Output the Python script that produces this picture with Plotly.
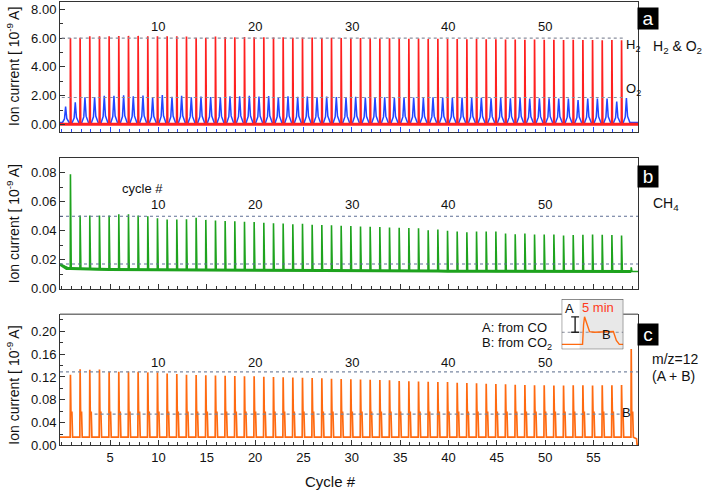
import plotly.graph_objects as go

# ---- data (cycle-resolved peak heights) ----
# H2 peaks (red), one per cycle 1..58
h2_peaks = [6.00, 6.02, 6.12, 6.12, 6.12, 6.14, 6.15, 6.15, 6.13, 6.12,
            6.13, 6.12, 6.10, 6.02, 6.02, 6.10, 6.08, 6.05, 6.08, 6.06,
            6.05, 6.04, 6.06, 6.02, 6.04, 6.03, 6.00, 6.02, 6.00, 5.98,
            6.00, 5.98, 5.97, 5.98, 5.96, 5.95, 5.96, 5.94, 5.95, 5.93,
            5.94, 5.92, 5.93, 5.91, 5.92, 5.90, 5.90, 5.89, 5.90, 5.88,
            5.88, 5.87, 5.88, 5.86, 5.86, 5.85, 5.86, 5.85]
h2_base = 0.03
# O2 peaks (blue), one per cycle 1..59
o2_peaks = [1.25, 1.55, 1.90, 1.92, 2.00, 2.00, 2.03, 1.97, 2.02, 1.88,
            2.05, 1.93, 2.00, 1.90, 1.95, 1.92, 1.90, 1.97, 1.97, 2.00,
            1.95, 1.98, 1.92, 1.96, 1.93, 1.95, 1.90, 1.94, 1.92, 1.90,
            1.93, 1.88, 1.92, 1.90, 1.86, 1.90, 1.88, 1.85, 1.90, 1.87,
            1.85, 1.88, 1.84, 1.86, 1.83, 1.85, 1.82, 1.84, 1.80, 1.83,
            1.82, 1.81, 1.81, 1.70, 1.80, 1.80, 1.80, 1.60, 1.85]
o2_base = 0.15
# CH4 peaks (green), cycles 1..58, plus the small bump of cycle 59
ch4_peaks = [0.0790, 0.0505, 0.0505, 0.0505, 0.0505, 0.0514, 0.0514, 0.0505, 0.0500, 0.0487,
             0.0478, 0.0478, 0.0480, 0.0490, 0.0475, 0.0470, 0.0468, 0.0465, 0.0462, 0.0460,
             0.0455, 0.0452, 0.0450, 0.0445, 0.0448, 0.0442, 0.0440, 0.0438, 0.0435, 0.0432,
             0.0430, 0.0428, 0.0425, 0.0422, 0.0420, 0.0419, 0.0417, 0.0403, 0.0408, 0.0400,
             0.0395, 0.0390, 0.0395, 0.0395, 0.0395, 0.0380, 0.0376, 0.0380, 0.0374, 0.0374,
             0.0374, 0.0367, 0.0370, 0.0372, 0.0374, 0.0372, 0.0370, 0.0367, 0.0147]
ch4_base = [0.0138, 0.0135, 0.0134, 0.0133, 0.0132, 0.0132, 0.0131, 0.0131, 0.0130, 0.0130,
            0.0130, 0.0129, 0.0129, 0.0129, 0.0128, 0.0128, 0.0128, 0.0127, 0.0127, 0.0127,
            0.0126, 0.0126, 0.0126, 0.0125, 0.0125, 0.0125, 0.0124, 0.0124, 0.0124, 0.0123,
            0.0123, 0.0123, 0.0122, 0.0122, 0.0122, 0.0121, 0.0121, 0.0121, 0.0121, 0.0120,
            0.0120, 0.0120, 0.0120, 0.0120, 0.0119, 0.0119, 0.0119, 0.0119, 0.0119, 0.0118,
            0.0118, 0.0118, 0.0118, 0.0118, 0.0118, 0.0118, 0.0118, 0.0118, 0.0118]
ch4_start = 0.0168
# m/z=12 peaks (orange, A from CO), cycles 1..59
mz12_peaks = [0.1240, 0.1335, 0.1325, 0.1330, 0.1290, 0.1290, 0.1295, 0.1290, 0.1280, 0.1280,
              0.1260, 0.1250, 0.1240, 0.1235, 0.1230, 0.1225, 0.1220, 0.1215, 0.1210, 0.1210,
              0.1205, 0.1200, 0.1195, 0.1190, 0.1185, 0.1180, 0.1175, 0.1170, 0.1165, 0.1160,
              0.1155, 0.1150, 0.1145, 0.1140, 0.1130, 0.1125, 0.1120, 0.1115, 0.1110, 0.1110,
              0.1100, 0.1095, 0.1090, 0.1080, 0.1075, 0.1070, 0.1065, 0.1060, 0.1055, 0.1055,
              0.1050, 0.1050, 0.1055, 0.1055, 0.1050, 0.1055, 0.1055, 0.1060, 0.1690]
mz12_b = 0.058      # B shoulder (from CO2)
mz12_base = 0.0145
mz12_end = 0.002

# reference levels (dotted lines)
ref_a = [6.0, 1.88]
ref_b = [0.050, 0.017]
ref_c = [0.129, 0.055]
cycle_marks = [10, 20, 30, 40, 50]
x_ticks = [5, 10, 15, 20, 25, 30, 35, 40, 45, 50, 55]

# inset schematic (A peak, B plateau), in inset units
inset_x = [0, 21, 22, 23, 25, 28, 33, 50, 52, 55, 58, 62]
inset_y = [5, 5, 25, 33, 27, 18, 17.3, 17.3, 18, 9, 5, 5]

W, H = 703, 498
FONT = "Liberation Sans, Arial, sans-serif"
XR = [-0.18, 59.6]


def px(x):
    return x / W


def py(y):
    return 1 - y / H


def sharp(pos, peaks, base, rise, fall, x_end, start=None):
    bases = base if isinstance(base, list) else [base] * len(peaks)
    xs, ys = [XR[0]], [start if start is not None else bases[0]]
    for p, h, b in zip(pos, peaks, bases):
        xs += [p - rise, p, p + fall]
        ys += [b, h, b]
    xs.append(x_end)
    ys.append(bases[-1])
    return xs, ys


def broad(pos, peaks, base, x_end):
    xs, ys = [XR[0]], [base]
    for p, h in zip(pos, peaks):
        xs += [p - 0.32, p - 0.12, p, p + 0.12, p + 0.36]
        ys += [base, base + 0.22 * (h - base), h, base + 0.25 * (h - base), base]
    xs.append(x_end)
    ys.append(base)
    return xs, ys


h2_pos = [n - 0.1 for n in range(1, len(h2_peaks) + 1)]
o2_pos = [n - 0.6 for n in range(1, len(o2_peaks) + 1)]
ch4_pos = [n - 0.1 for n in range(1, len(ch4_peaks) + 1)]
mz_pos = [n - 0.1 for n in range(1, len(mz12_peaks) + 1)]

fig = go.Figure()

# panel a
bx, by = broad(o2_pos, o2_peaks, o2_base, XR[1])
fig.add_trace(go.Scatter(x=bx, y=by, mode="lines", line=dict(color="#2346ff", width=1.5),
                         xaxis="x", yaxis="y"))
rx, ry = sharp(h2_pos, h2_peaks, h2_base, 0.02, 0.06, XR[1])
fig.add_trace(go.Scatter(x=rx, y=ry, mode="lines", line=dict(color="#ff2020", width=1.7),
                         xaxis="x", yaxis="y"))
fig.add_trace(go.Scatter(x=[XR[0], XR[1]], y=[h2_base, h2_base], mode="lines",
                         line=dict(color="#ff2020", width=3), xaxis="x", yaxis="y"))

# panel b
gx, gy = sharp(ch4_pos, ch4_peaks, ch4_base, 0.02, 0.08, XR[1], start=ch4_start)
fig.add_trace(go.Scatter(x=gx, y=gy, mode="lines", line=dict(color="#1ea31e", width=1.6),
                         xaxis="x2", yaxis="y2"))
fig.add_trace(go.Scatter(x=[XR[0], 0.5] + ch4_pos, y=[ch4_start, ch4_base[0]] + ch4_base,
                         mode="lines", line=dict(color="#1ea31e", width=3),
                         xaxis="x2", yaxis="y2"))

# panel c
ox, oy = [XR[0]], [mz12_base]
for p, h in zip(mz_pos, mz12_peaks):
    ox += [p - 0.03, p, p + 0.05, p + 0.15, p + 0.22]
    oy += [mz12_base, h, mz12_b, mz12_b, mz12_base]
ox += [59.45, 59.5, XR[1]]
oy += [mz12_base * 0.8, mz12_end, mz12_end]
fig.add_trace(go.Scatter(x=ox, y=oy, mode="lines", line=dict(color="#ff6a10", width=1.7),
                         xaxis="x3", yaxis="y3"))

# inset
fig.add_trace(go.Scatter(x=inset_x, y=inset_y, mode="lines", line=dict(color="#ff6a10", width=1.4),
                         xaxis="x4", yaxis="y4"))
fig.add_trace(go.Scatter(x=[9.5, 17.5, None, 13.5, 13.5, None, 9.5, 17.5],
                         y=[33, 33, None, 33, 17.3, None, 17.3, 17.3], mode="lines",
                         line=dict(color="#222", width=1.4), xaxis="x4", yaxis="y4"))

dom_x = [px(60), px(638)]
axis_common = dict(showline=True, linecolor="#333", linewidth=1, mirror=True,
                   ticks="inside", ticklen=5, tickcolor="#333", showgrid=False,
                   zeroline=False, tickfont=dict(family=FONT, size=13, color="#111"))
xminor = dict(ticks="inside", ticklen=3, dtick=1, tickcolor="#333")

fig.update_layout(
    width=W, height=H, autosize=False, margin=dict(l=0, r=0, t=0, b=0, pad=0),
    paper_bgcolor="white", plot_bgcolor="rgba(0,0,0,0)", showlegend=False,
    font=dict(family=FONT, size=13, color="#111"),
    xaxis=dict(axis_common, domain=dom_x, range=XR, anchor="y", tickvals=x_ticks,
               showticklabels=False, tickcolor="#2346ff",
               minor=dict(xminor, tickcolor="#2346ff")),
    yaxis=dict(axis_common, domain=[py(134), py(2)], range=[-0.5, 8.5], anchor="x",
               dtick=2, tick0=0, tickformat=".2f", minor=dict(ticks="inside", ticklen=3, dtick=1)),
    xaxis2=dict(axis_common, domain=dom_x, range=XR, anchor="y2", tickvals=x_ticks,
                showticklabels=False, minor=xminor),
    yaxis2=dict(axis_common, domain=[py(293.3), py(161)], range=[0, 0.09], anchor="x2",
                dtick=0.02, tick0=0, tickformat=".2f", minor=dict(ticks="inside", ticklen=3, dtick=0.01)),
    xaxis3=dict(axis_common, domain=dom_x, range=XR, anchor="y3", tickvals=x_ticks,
                mirror=False, minor=xminor, title=None),
    yaxis3=dict(axis_common, domain=[py(452.7), py(319.3)], range=[0, 0.23], anchor="x3",
                dtick=0.04, tick0=0, tickformat=".2f", minor=dict(ticks="inside", ticklen=3, dtick=0.02)),
    xaxis4=dict(domain=[px(561.7), px(623.3)], range=[0, 62], anchor="y4", visible=False),
    yaxis4=dict(domain=[py(355), py(304)], range=[0, 51], anchor="x4", visible=False),
)

shapes = []
for v in ref_a:
    shapes.append(dict(type="line", xref="x", yref="y", x0=0, x1=58.1, y0=v, y1=v,
                       line=dict(color="#8a8f9e", width=1.2, dash="dot")))
for v in ref_b:
    shapes.append(dict(type="line", xref="x2", yref="y2", x0=XR[0], x1=XR[1], y0=v, y1=v,
                       line=dict(color="#5f6f95", width=1.1, dash="dot")))
shapes.append(dict(type="line", xref="x3", yref="y3", x0=XR[0], x1=XR[1], y0=ref_c[0], y1=ref_c[0],
                   line=dict(color="#7a88a2", width=1.2, dash="dot")))
shapes.append(dict(type="line", xref="x3", yref="y3", x0=3.4, x1=58.0, y0=ref_c[1], y1=ref_c[1],
                   line=dict(color="#7a88a2", width=1.2, dash="dot")))
# panel c top frame, interrupted by the inset
shapes.append(dict(type="line", xref="paper", yref="paper", x0=px(60), x1=px(561.7),
                   y0=py(319.3), y1=py(319.3), line=dict(color="#333", width=1)))
shapes.append(dict(type="line", xref="paper", yref="paper", x0=px(623.3), x1=px(638),
                   y0=py(319.3), y1=py(319.3), line=dict(color="#333", width=1)))
# inset box
shapes.append(dict(type="rect", xref="x4", yref="y4", x0=0, x1=62, y0=0, y1=51,
                   fillcolor="white", line=dict(width=0), layer="below"))
shapes.append(dict(type="rect", xref="x4", yref="y4", x0=18, x1=62, y0=0, y1=51,
                   fillcolor="#e8e8e8", line=dict(width=0), layer="below"))
shapes.append(dict(type="line", xref="x4", yref="y4", x0=0, x1=62, y0=17.3, y1=17.3,
                   line=dict(color="#8a8f9e", width=1, dash="dot"), layer="below"))
shapes.append(dict(type="rect", xref="x4", yref="y4", x0=0, x1=62, y0=0, y1=51,
                   fillcolor="rgba(0,0,0,0)", line=dict(color="#444", width=1)))
fig.update_layout(shapes=shapes)

ann = []
ylab = "Ion current [ 10<sup>-9</sup> A]"
for yc in [68, 228, 392]:
    ann.append(dict(text=ylab, xref="paper", yref="paper", x=px(13), y=py(yc), textangle=-90,
                    showarrow=False, font=dict(size=14), xanchor="center", yanchor="middle"))
for c in cycle_marks:
    ann.append(dict(text=str(c), xref="x", yref="y", x=c, y=6.78, showarrow=False, font=dict(size=13)))
    ann.append(dict(text=str(c), xref="x2", yref="y2", x=c, y=0.058, showarrow=False, font=dict(size=13)))
    ann.append(dict(text=str(c), xref="x3", yref="y3", x=c, y=0.1445, showarrow=False, font=dict(size=13)))
ann.append(dict(text="cycle #", xref="x2", yref="y2", x=8.4, y=0.069, showarrow=False, font=dict(size=13)))
ann.append(dict(text="H<sub>2</sub>", xref="x", yref="y", x=58.2, y=5.45, xanchor="left",
                showarrow=False, font=dict(size=13)))
ann.append(dict(text="O<sub>2</sub>", xref="x", yref="y", x=58.2, y=2.4, xanchor="left",
                showarrow=False, font=dict(size=13)))
ann.append(dict(text="B", xref="x3", yref="y3", x=58.4, y=0.058, showarrow=False, font=dict(size=13)))
ann.append(dict(text="Cycle #", xref="paper", yref="paper", x=px(330), y=py(489), showarrow=False,
                yanchor="middle", font=dict(size=15)))
# panel tags
for tag, yc in [("a", 19), ("b", 179.5), ("c", 340)]:
    ann.append(dict(text=tag, xref="paper", yref="paper", x=px(658.7), y=py(yc), showarrow=False,
                    yanchor="middle", bgcolor="black", font=dict(color="white", size=19),
                    width=18, height=19))
ann.append(dict(text="H<sub>2</sub> & O<sub>2</sub>", xref="paper", yref="paper", x=px(651),
                y=py(48), xanchor="left", yanchor="middle", showarrow=False, font=dict(size=14)))
ann.append(dict(text="CH<sub>4</sub>", xref="paper", yref="paper", x=px(651),
                y=py(207), xanchor="left", yanchor="middle", showarrow=False, font=dict(size=14)))
ann.append(dict(text="m/z=12", xref="paper", yref="paper", x=px(650),
                y=py(365), xanchor="left", yanchor="middle", showarrow=False, font=dict(size=14)))
ann.append(dict(text="(A + B)", xref="paper", yref="paper", x=px(650),
                y=py(382), xanchor="left", yanchor="middle", showarrow=False, font=dict(size=14)))
ann.append(dict(text="A: from CO", xref="paper", yref="paper", x=px(480),
                y=py(333), xanchor="left", yanchor="middle", showarrow=False, font=dict(size=13)))
ann.append(dict(text="B: from CO<sub>2</sub>", xref="paper", yref="paper", x=px(480),
                y=py(349), xanchor="left", yanchor="middle", showarrow=False, font=dict(size=13)))
ann.append(dict(text="A", xref="x4", yref="y4", x=8, y=41, showarrow=False, font=dict(size=13)))
ann.append(dict(text="5 min", xref="x4", yref="y4", x=37, y=42, showarrow=False,
                font=dict(size=13, color="#ff3a20")))
ann.append(dict(text="B", xref="x4", yref="y4", x=45, y=15.5, showarrow=False, font=dict(size=13)))
fig.update_layout(annotations=ann)

fig.write_html("out.html", config={"displayModeBar": False, "responsive": False},
               post_script="document.body.style.margin='0';")
